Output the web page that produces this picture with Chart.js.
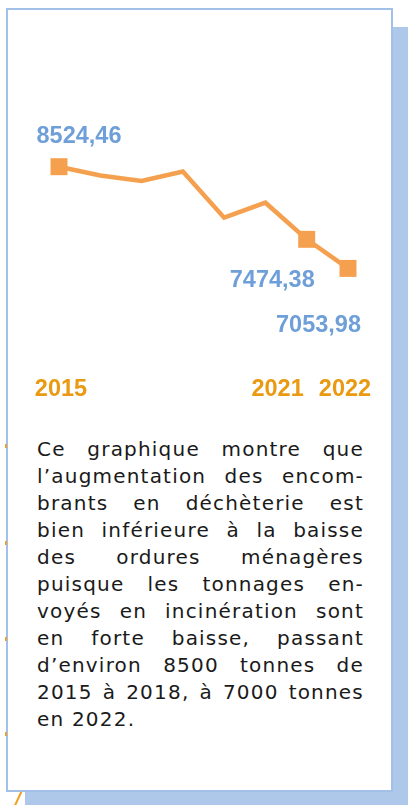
<!DOCTYPE html>
<html>
<head>
<meta charset="utf-8">
<script src="https://cdn.jsdelivr.net/npm/chart.js@4/dist/chart.umd.min.js"></script>
<style>
	html, body { margin: 0; padding: 0; background: #fff; }
	body { width: 408px; height: 805px; position: relative; overflow: hidden; }
	.shadow { position: absolute; left: 25px; top: 27px; width: 400px; height: 800px; background: #aec8e9; }
	.card { position: absolute; left: 6px; top: 8px; width: 387px; height: 784px; box-sizing: border-box; border: 2px solid #a3c1e8; background: #fff; }
	canvas { position: absolute; left: 0; top: 0; }
	.tick { position: absolute; left: 5px; width: 2px; height: 4px; background: #e8a030; }
	.slash { position: absolute; left: 17px; top: 791px; width: 2px; height: 16px; background: #f0a020; transform: rotate(25deg); }
	.texte {
		position: absolute; left: 37px; top: 436px; width: 327px;
		font-family: "DejaVu Sans", sans-serif; font-size: 20px; line-height: 27px; color: #1a1a1a;
		letter-spacing: 1.2px;
	}
	.texte div { text-align: justify; text-align-last: justify; white-space: nowrap; }
	.texte div:last-child { text-align-last: left; }
</style>
</head>
<body>
<div class="shadow"></div>
<div class="card"></div>
<div class="tick" style="top:444px"></div>
<div class="tick" style="top:541px"></div>
<div class="tick" style="top:637px"></div>
<div class="tick" style="top:732px"></div>
<div class="slash"></div>
<canvas id="chart" width="408" height="420"></canvas>
<div class="texte">
	<div>Ce graphique montre que</div>
	<div>l’augmentation des encom-</div>
	<div>brants en déchèterie est</div>
	<div>bien inférieure à la baisse</div>
	<div>des ordures ménagères</div>
	<div>puisque les tonnages en-</div>
	<div>voyés en incinération sont</div>
	<div>en forte baisse, passant</div>
	<div>d’environ 8500 tonnes de</div>
	<div>2015 à 2018, à 7000 tonnes</div>
	<div>en 2022.</div>
</div>
<script>
const years = ['2015', '2016', '2017', '2018', '2019', '2020', '2021', '2022'];
const tonnages = [8524.46, 8397, 8318, 8455, 7787, 8004, 7474.38, 7053.98];
const labelledYears = ['2015', '2021', '2022'];
const labelledValues = ['2015', '2021', '2022'];

const ORANGE = '#f5a04e';
const YEAR_ORANGE = '#e99a12';
const BLUE = '#6e9fd9';
const LABEL_FONT = 'bold 23.5px "Liberation Sans", Arial, sans-serif';

// placement des étiquettes (décalage par rapport au point)
const valuePlacement = {
	'2015': { align: 'left', dx: -22.5, dy: -24 },
	'2021': { align: 'right', dx: 8, dy: 48 },
	'2022': { align: 'right', dx: 13, dy: 64 },
};
const yearPlacement = {
	'2015': { align: 'center', dx: 2 },
	'2021': { align: 'right', dx: -3 },
	'2022': { align: 'center', dx: -3 },
};

function formatFr(v) {
	return v.toFixed(2).replace('.', ',');
}

const labelsPlugin = {
	id: 'labels',
	afterDatasetsDraw(chart) {
		const { ctx, chartArea } = chart;
		const meta = chart.getDatasetMeta(0);
		ctx.save();
		ctx.font = LABEL_FONT;
		ctx.textBaseline = 'alphabetic';
		years.forEach((year, i) => {
			const pt = meta.data[i];
			if (labelledValues.includes(year)) {
				const p = valuePlacement[year];
				ctx.fillStyle = BLUE;
				ctx.textAlign = p.align;
				ctx.fillText(formatFr(tonnages[i]), pt.x + p.dx, pt.y + p.dy);
			}
			if (labelledYears.includes(year)) {
				const p = yearPlacement[year];
				ctx.fillStyle = YEAR_ORANGE;
				ctx.textAlign = p.align;
				ctx.fillText(year, pt.x + p.dx, chartArea.bottom - 4);
			}
		});
		ctx.restore();
	},
};

new Chart(document.getElementById('chart'), {
	type: 'line',
	data: {
		labels: years,
		datasets: [
			{
				data: tonnages,
				borderColor: ORANGE,
				borderWidth: 4.5,
				tension: 0,
				pointStyle: 'rect',
				pointRadius: years.map((y) => (labelledValues.includes(y) ? 12 : 0)),
				pointBackgroundColor: ORANGE,
				pointBorderWidth: 0,
			},
		],
	},
	options: {
		responsive: false,
		animation: false,
		layout: { padding: { left: 59, right: 60, top: 100, bottom: 20 } },
		plugins: { legend: { display: false }, tooltip: { enabled: false } },
		scales: {
			x: { display: false, offset: false },
			y: { display: false, min: 5151, max: 9489 },
		},
	},
	plugins: [labelsPlugin],
});
</script>
</body>
</html>
